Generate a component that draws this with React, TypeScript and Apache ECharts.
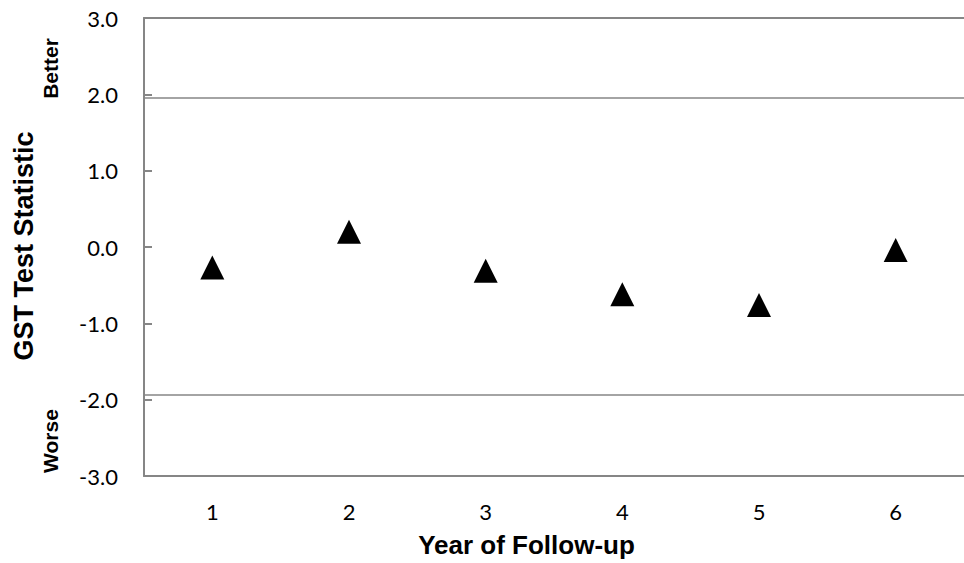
import React, { useEffect, useRef } from "react";
import * as echarts from "echarts";

const years = ["1", "2", "3", "4", "5", "6"];
const gstValues = [-0.27, 0.2, -0.31, -0.62, -0.76, -0.04];
const boundaries = [1.96, -1.93];
const yMin = -3;
const yMax = 3;
const yStep = 1;
const yTitle = "GST Test Statistic";
const xTitle = "Year of Follow-up";
const betterLabel = "Better";
const worseLabel = "Worse";

export default function App() {
  const ref = useRef<HTMLDivElement>(null);
  useEffect(() => {
    if (!ref.current) return;
    const chart = echarts.init(ref.current, null, { renderer: "svg" });
    const gray = "#868686";
    const labelFont = "Lato, 'Open Sans', sans-serif";
    const boldFont = "'Liberation Sans', Arial, sans-serif";
    chart.setOption({
      animation: false,
      backgroundColor: "#ffffff",
      grid: { left: 144, right: -12, top: 18, bottom: 87, containLabel: false },
      xAxis: [
        {
          type: "category",
          data: years,
          boundaryGap: true,
          position: "bottom",
          axisLine: { show: true, onZero: false, lineStyle: { color: gray, width: 2 } },
          axisTick: { show: false },
          axisLabel: { color: "#000", fontFamily: labelFont, fontSize: 22, margin: 24 },
          splitLine: { show: false },
        },
        {
          type: "category",
          data: years,
          boundaryGap: true,
          position: "top",
          axisLine: { show: true, onZero: false, lineStyle: { color: gray, width: 2 } },
          axisTick: { show: false },
          axisLabel: { show: false },
          splitLine: { show: false },
        },
      ],
      yAxis: {
        type: "value",
        min: yMin,
        max: yMax,
        interval: yStep,
        axisLine: { show: true, onZero: false, lineStyle: { color: gray, width: 2 } },
        axisTick: { show: true, inside: true, length: 8, lineStyle: { color: gray, width: 2 } },
        axisLabel: {
          color: "#000",
          fontFamily: labelFont,
          fontSize: 22,
          margin: 26,
          formatter: (v: number) => v.toFixed(1),
        },
        splitLine: { show: false },
      },
      series: [
        {
          type: "scatter",
          data: gstValues,
          symbol: "triangle",
          symbolSize: [24, 24],
          itemStyle: { color: "#000", opacity: 1 },
          markLine: {
            silent: true,
            symbol: "none",
            label: { show: false },
            lineStyle: { color: gray, width: 1.5, type: "solid" },
            data: boundaries.map((b) => ({ yAxis: b })),
          },
        },
      ],
      graphic: [
        {
          type: "text",
          x: 23.5,
          y: 246,
          rotation: Math.PI / 2,
          style: {
            text: yTitle,
            fill: "#000",
            font: `bold 27px ${boldFont}`,
            textAlign: "center",
            textVerticalAlign: "middle",
          },
        },
        {
          type: "text",
          x: 50,
          y: 68.5,
          rotation: Math.PI / 2,
          style: {
            text: betterLabel,
            fill: "#000",
            font: `bold 21px ${boldFont}`,
            textAlign: "center",
            textVerticalAlign: "middle",
          },
        },
        {
          type: "text",
          x: 50,
          y: 441,
          rotation: Math.PI / 2,
          style: {
            text: worseLabel,
            fill: "#000",
            font: `bold 21px ${boldFont}`,
            textAlign: "center",
            textVerticalAlign: "middle",
          },
        },
        {
          type: "text",
          x: 526.5,
          y: 545,
          style: {
            text: xTitle,
            fill: "#000",
            font: `bold 26px ${boldFont}`,
            textAlign: "center",
            textVerticalAlign: "middle",
          },
        },
      ],
    });
    return () => chart.dispose();
  }, []);
  return (
    <div style={{ position: "fixed", left: 0, top: 0, width: 964, height: 563, background: "#fff" }}>
      <div ref={ref} style={{ width: 964, height: 563 }} />
    </div>
  );
}
